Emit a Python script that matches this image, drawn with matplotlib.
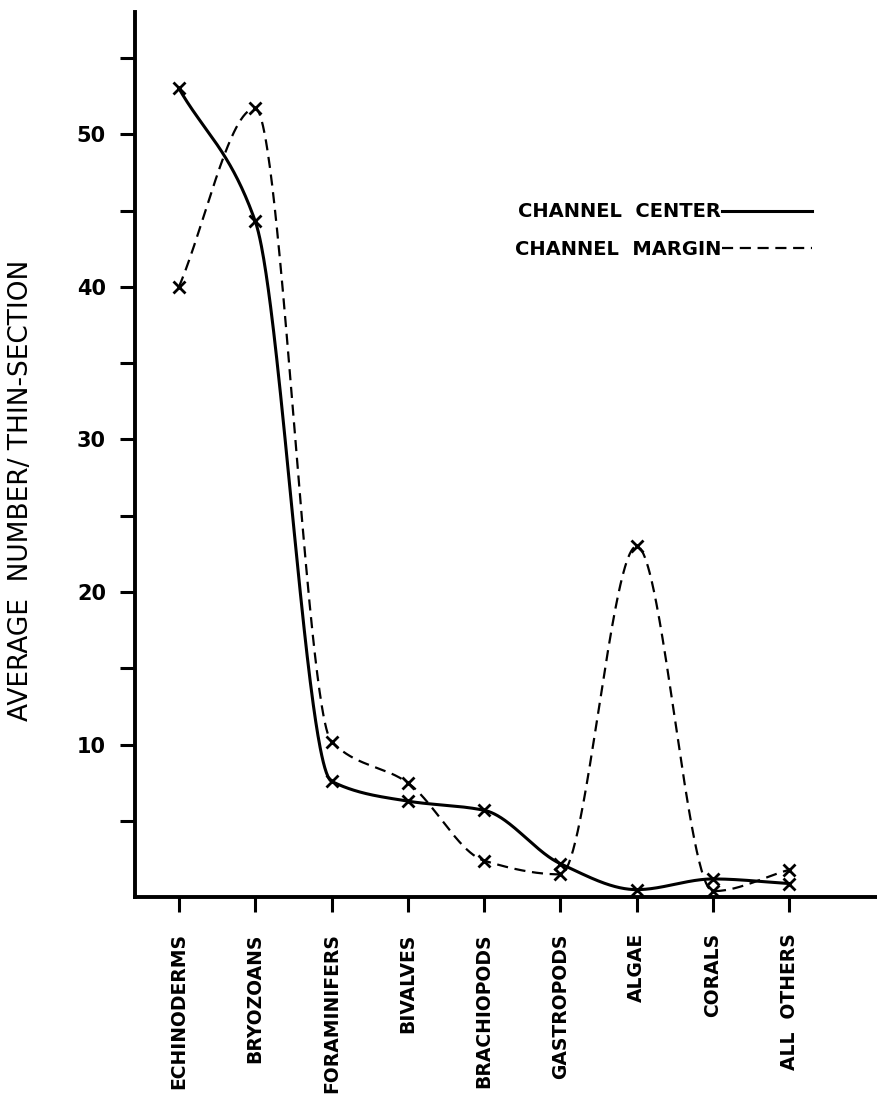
import numpy as np
from matplotlib import pyplot as plt

categories = ["ECHINODERMS", "BRYOZOANS", "FORAMINIFERS", "BIVALVES", "BRACHIOPODS",
              "GASTROPODS", "ALGAE", "CORALS", "ALL  OTHERS"]
center = [53.0, 44.3, 7.6, 6.3, 5.7, 2.2, 0.5, 1.2, 0.9]
margin = [40.0, 51.7, 10.2, 7.5, 2.4, 1.5, 23.0, 0.4, 1.8]
yticks_major = [10, 20, 30, 40, 50]
yticks_minor = [5, 15, 25, 35, 45, 55]


def pchip(x, y, xs):
    # shape-preserving cubic so the curves look hand drawn but go through the points
    x = np.asarray(x, float)
    y = np.asarray(y, float)
    h = np.diff(x)
    d = np.diff(y) / h
    m = np.zeros_like(y)
    for k in range(1, len(x) - 1):
        if d[k - 1] * d[k] > 0:
            w1 = 2 * h[k] + h[k - 1]
            w2 = h[k] + 2 * h[k - 1]
            m[k] = (w1 + w2) / (w1 / d[k - 1] + w2 / d[k])
    m[0] = d[0]
    m[-1] = d[-1]
    idx = np.clip(np.searchsorted(x, xs) - 1, 0, len(x) - 2)
    t = (xs - x[idx]) / h[idx]
    h00 = 2 * t**3 - 3 * t**2 + 1
    h10 = t**3 - 2 * t**2 + t
    h01 = -2 * t**3 + 3 * t**2
    h11 = t**3 - t**2
    return h00 * y[idx] + h10 * h[idx] * m[idx] + h01 * y[idx + 1] + h11 * h[idx] * m[idx + 1]


fig = plt.figure(figsize=(8.77, 11.05), dpi=100)
ax = fig.add_axes([0.154, 0.188, 0.846, 0.801])

x = np.arange(len(categories))
xs = np.linspace(0, len(categories) - 1, 800)

ax.plot(xs, pchip(x, center, xs), color='black', lw=2.2, label="CHANNEL  CENTER")
ax.plot(xs, pchip(x, margin, xs), color='black', lw=1.6, linestyle=(0, (5, 3)),
        label="CHANNEL  MARGIN")
ax.plot(x, center, 'x', color='black', ms=8, mew=2)
ax.plot(x, margin, 'x', color='black', ms=8, mew=2)

ax.set_xlim(-0.575, 9.15)
ax.set_ylim(0, 58)
ax.set_xticks(x)
ax.set_xticklabels(categories, rotation=90, fontsize=13.5, fontweight='bold')
ax.set_yticks(yticks_major)
ax.set_yticks(yticks_minor, minor=True)
ax.set_yticklabels([str(v) for v in yticks_major], fontsize=15, fontweight='bold')
ax.tick_params(axis='both', which='both', direction='out', length=11, width=2.2)
ax.tick_params(axis='y', which='both', pad=10)
ax.tick_params(axis='x', which='both', pad=15)

for side in ['top', 'right']:
    ax.spines[side].set_visible(False)
for side in ['left', 'bottom']:
    ax.spines[side].set_linewidth(2.8)

ax.set_ylabel("AVERAGE  NUMBER/ THIN-SECTION", fontsize=19)
ax.yaxis.set_label_coords(-0.136, 0.46)

leg = ax.legend(loc='upper right', bbox_to_anchor=(0.912, 0.785), frameon=False,
                markerfirst=False, handlelength=4.6, handletextpad=0.05,
                labelspacing=0.95, borderpad=0, borderaxespad=0,
                prop={'size': 14, 'weight': 'bold'})

fig.savefig("out.png", dpi=100)
